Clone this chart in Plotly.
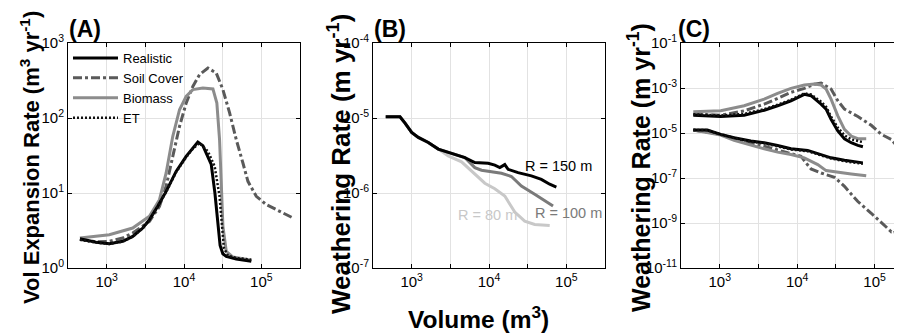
import plotly.graph_objects as go

# ---------------- Panel A: volume expansion rate ----------------
a_real_x = [451, 728, 1083, 1612, 2173, 2929, 3574, 4581, 5876, 7912, 10660, 13010, 15100, 17540, 20370, 22500, 25100, 27400, 29300, 31800, 35180, 47420, 74200]
a_real_y = [2.46, 2.20, 2.11, 2.27, 2.64, 3.41, 4.41, 6.64, 10.5, 19.4, 30.8, 39.8, 47.9, 42.8, 30.8, 24.0, 10.0, 4.0, 2.0, 1.55, 1.43, 1.32, 1.23]

a_et_x = [451, 728, 1083, 1612, 2173, 2929, 3574, 4581, 5876, 7912, 10660, 13010, 15880, 20370, 24900, 28840, 30980, 32800, 37000, 47420, 74200]
a_et_y = [2.38, 2.18, 2.09, 2.25, 2.62, 3.38, 4.35, 6.55, 10.3, 19.0, 30.0, 39.0, 46.5, 36.0, 22.7, 9.0, 3.6, 1.85, 1.46, 1.36, 1.29]

a_bio_x = [451, 1083, 2173, 3574, 4820, 5876, 7160, 8750, 10660, 13010, 17540, 23660, 26600, 28840, 30330, 31840, 35180, 42950, 74200]
a_bio_y = [2.51, 2.78, 3.41, 4.89, 8.15, 18.5, 57.0, 129, 194, 239, 251, 244, 158, 51.0, 13.6, 3.6, 1.67, 1.40, 1.27]

a_soil_x = [451, 728, 1083, 1612, 2173, 3574, 4820, 5876, 7160, 8750, 10660, 13010, 15880, 20370, 26120, 31840, 38900, 47420, 57800, 67100, 86100, 116000, 173000, 257000]
a_soil_y = [2.39, 2.24, 2.27, 2.51, 2.93, 4.19, 6.64, 12.3, 30.8, 77.4, 158, 264, 378, 464, 398, 239, 117, 51.4, 25.1, 14.3, 9.03, 6.99, 5.70, 4.64]

# ---------------- Panel B: weathering rate for different R ----------------
b150_x = [462, 706, 821, 1000, 1219, 1641, 2208, 3281, 4875, 6561, 9747, 11890, 13800, 16000, 17660, 23770, 35320, 47530, 60940, 74300]
b150_y = [1.04e-5, 1.04e-5, 8.57e-6, 6.43e-6, 5.51e-6, 4.72e-6, 3.85e-6, 3.37e-6, 2.97e-6, 2.55e-6, 2.49e-6, 2.35e-6, 2.18e-6, 2.39e-6, 2.07e-6, 1.87e-6, 1.69e-6, 1.52e-6, 1.31e-6, 1.20e-6]

b100_x = [462, 706, 821, 1000, 1219, 1641, 2208, 3281, 4875, 5380, 6561, 8000, 14490, 19500, 26240, 39000, 52480, 67300]
b100_y = [1.04e-5, 1.04e-5, 8.57e-6, 6.43e-6, 5.51e-6, 4.72e-6, 3.85e-6, 3.37e-6, 2.97e-6, 2.68e-6, 2.18e-6, 2.01e-6, 1.83e-6, 1.66e-6, 1.24e-6, 9.6e-7, 7.8e-7, 6.7e-7]

b80_x = [462, 706, 821, 1000, 1219, 1641, 2208, 2970, 4415, 6561, 8830, 11890, 16000, 21530, 28970, 39000, 60940]
b80_y = [1.04e-5, 1.04e-5, 8.57e-6, 6.43e-6, 5.51e-6, 4.72e-6, 3.85e-6, 3.13e-6, 2.60e-6, 1.78e-6, 1.35e-6, 1.14e-6, 9.1e-7, 5.57e-7, 4.22e-7, 3.80e-7, 3.69e-7]

# ---------------- Panel C: weathering rate, two groups ----------------
c_real_up_x = [456, 1030, 2066, 3755, 5590, 8320, 12380, 15100, 20370, 23660, 27420, 33500, 40840, 49890, 60810, 70630]
c_real_up_y = [6.18e-5, 5.38e-5, 6.18e-5, 1.03e-4, 1.62e-4, 2.71e-4, 5.2e-4, 4.54e-4, 1.92e-4, 1.15e-4, 4.09e-5, 1.23e-5, 5.57e-6, 3.69e-6, 2.8e-6, 2.44e-6]
c_et_up_x = [456, 1030, 2066, 3755, 5590, 8320, 12380, 15100, 20370, 23660, 27420, 33500, 40840, 49890, 70630]
c_et_up_y = [6.85e-5, 6.0e-5, 7.1e-5, 1.15e-4, 1.8e-4, 3.0e-4, 5.77e-4, 5.2e-4, 2.44e-4, 1.46e-4, 5.38e-5, 1.73e-5, 7.9e-6, 5.2e-6, 3.95e-6]
c_bio_up_x = [456, 1030, 2066, 3755, 5590, 8320, 12380, 16680, 20370, 23660, 27420, 33500, 40840, 49890, 60810, 78000]
c_bio_up_y = [8.7e-5, 9.7e-5, 1.62e-4, 3.21e-4, 5.77e-4, 9.66e-4, 1.36e-3, 1.51e-3, 1.36e-3, 9.0e-4, 3.21e-4, 5.77e-5, 1.46e-5, 7.3e-6, 5.57e-6, 5.57e-6]
c_soil_up_x = [456, 1030, 2066, 3755, 5590, 8320, 12380, 16680, 20370, 27420, 33500, 40840, 60810, 90600, 122000, 164400, 191000, 211000, 226000, 263000]
c_soil_up_y = [6.85e-5, 6.18e-5, 9.66e-5, 1.92e-4, 3.44e-4, 6.4e-4, 9.66e-4, 1.46e-3, 1.67e-3, 9.0e-4, 2.71e-4, 1.15e-4, 5.38e-5, 2.2e-5, 8.7e-6, 5.2e-6, 2.8e-6, 6.6e-7, 3.3e-7, 1.66e-7]

c_real_lo_x = [456, 692, 1030, 1534, 2523, 3755, 5590, 8320, 13680, 18450, 27420, 40840, 70630]
c_real_lo_y = [1.36e-5, 1.36e-5, 8.7e-6, 6.18e-6, 4.38e-6, 3.69e-6, 2.8e-6, 1.99e-6, 1.68e-6, 1.19e-6, 7.87e-7, 6.18e-7, 4.7e-7]
c_et_lo_x = [456, 692, 1030, 1534, 2523, 3755, 5590, 8320, 13680, 18450, 27420, 40840, 70630]
c_et_lo_y = [1.36e-5, 1.34e-5, 8.4e-6, 5.9e-6, 4.1e-6, 3.5e-6, 2.6e-6, 1.85e-6, 1.55e-6, 1.12e-6, 7.4e-7, 5.57e-7, 4.24e-7]
c_bio_lo_x = [456, 1030, 1534, 2523, 3755, 5590, 8320, 12380, 18450, 23660, 33500, 49890, 78000]
c_bio_lo_y = [1.36e-5, 8.13e-6, 4.7e-6, 2.8e-6, 1.99e-6, 1.41e-6, 1.11e-6, 7.87e-7, 3.95e-7, 2.13e-7, 1.79e-7, 1.51e-7, 1.27e-7]
c_soil_lo_x = [456, 1030, 2066, 3755, 7530, 11220, 13010, 15100, 20370, 30330, 40840, 60810, 90600, 122000, 164400, 181600, 200500, 226000, 263000]
c_soil_lo_y = [1.36e-5, 8.7e-6, 4.38e-6, 2.62e-6, 1.32e-6, 9.3e-7, 4.7e-7, 2.53e-7, 1.67e-7, 1.07e-7, 4.24e-8, 9.0e-9, 2.71e-9, 1.04e-9, 4.09e-10, 4.54e-10, 1.32e-10, 6.6e-11, 4.4e-11]

x_tickvals = [1e3, 10**3.5, 1e4, 10**4.5, 1e5]
x_ticktext = ["10<sup>3</sup>", "", "10<sup>4</sup>", "", "10<sup>5</sup>"]
a_ytickvals = [1, 10, 100, 1000]
a_yticktext = ["10<sup>0</sup>", "10<sup>1</sup>", "10<sup>2</sup>", "10<sup>3</sup>"]
b_ytickvals = [1e-7, 1e-6, 1e-5, 1e-4]
b_yticktext = ["10<sup>-7</sup>", "10<sup>-6</sup>", "10<sup>-5</sup>", "10<sup>-4</sup>"]
c_ytickvals = [1e-11, 1e-9, 1e-7, 1e-5, 1e-3, 1e-1]
c_yticktext = ["10<sup>-11</sup>", "10<sup>-9</sup>", "10<sup>-7</sup>", "10<sup>-5</sup>", "10<sup>-3</sup>", "10<sup>-1</sup>"]

FONT = "Liberation Sans, Arial, sans-serif"
# the page body has an 8px default margin, so the figure is drawn 8px in from the corner
OFF = 8
W, H = 902 - OFF, 334 - OFF

def PX(p):
    return (p - OFF) / W

def PY(p):
    return 1 - (p - OFF) / H

BLACK = "#000000"
SOIL = "#5a5a5a"
BIO = "#8c8c8c"
R100C = "#7a7a7a"
R80C = "#c8c8c8"

styles = {
    "Realistic": dict(color=BLACK, width=3, dash="solid"),
    "Soil Cover": dict(color=SOIL, width=3, dash="dashdot"),
    "Biomass": dict(color=BIO, width=3, dash="solid"),
    "ET": dict(color="#111111", width=2.5, dash="2px,2px"),
}

fig = go.Figure()

def add(x, y, name, xa, ya, show=False, line=None):
    fig.add_trace(go.Scatter(x=x, y=y, mode="lines", name=name, showlegend=show,
                             line=line or styles[name], xaxis=xa, yaxis=ya,
                             hoverinfo="skip"))

# Panel A
add(a_soil_x, a_soil_y, "Soil Cover", "x", "y")
add(a_bio_x, a_bio_y, "Biomass", "x", "y")
add(a_real_x, a_real_y, "Realistic", "x", "y")
add(a_et_x, a_et_y, "ET", "x", "y")
# legend entries in the reference order
for nm in ["Realistic", "Soil Cover", "Biomass", "ET"]:
    fig.add_trace(go.Scatter(x=[None], y=[None], mode="lines", name=nm, line=styles[nm],
                             showlegend=True, xaxis="x", yaxis="y"))

# Panel B
add(b80_x, b80_y, "R80", "x2", "y2", line=dict(color=R80C, width=3))
add(b100_x, b100_y, "R100", "x2", "y2", line=dict(color=R100C, width=3))
add(b150_x, b150_y, "R150", "x2", "y2", line=dict(color=BLACK, width=3))

# Panel C
add(c_soil_lo_x, c_soil_lo_y, "Soil Cover", "x3", "y3")
add(c_bio_lo_x, c_bio_lo_y, "Biomass", "x3", "y3")
add(c_real_lo_x, c_real_lo_y, "Realistic", "x3", "y3")
add(c_et_lo_x, c_et_lo_y, "ET", "x3", "y3")
add(c_soil_up_x, c_soil_up_y, "Soil Cover", "x3", "y3")
add(c_bio_up_x, c_bio_up_y, "Biomass", "x3", "y3")
add(c_real_up_x, c_real_up_y, "Realistic", "x3", "y3")
add(c_et_up_x, c_et_up_y, "ET", "x3", "y3")

ydom = [PY(268), PY(43)]
common_x = dict(type="log", range=[2.5, 5.5], tickvals=x_tickvals, ticktext=x_ticktext,
                ticks="inside", ticklen=4, tickcolor=BLACK, showline=True, linecolor=BLACK,
                linewidth=1, mirror="ticks", showgrid=True, gridcolor="#e2e2e2", gridwidth=1,
                zeroline=False, automargin=False,
                tickfont=dict(family=FONT, size=15, color=BLACK))
common_y = dict(type="log", ticks="inside", ticklen=4, tickcolor=BLACK, showline=True,
                linecolor=BLACK, linewidth=1, mirror="ticks", showgrid=True,
                gridcolor="#e2e2e2", gridwidth=1, zeroline=False, domain=ydom,
                automargin=False, tickfont=dict(family=FONT, size=15, color=BLACK))

fig.update_layout(
    width=W, height=H, margin=dict(l=0, r=0, t=0, b=0, autoexpand=False),
    paper_bgcolor="white", plot_bgcolor="white",
    xaxis=dict(common_x, domain=[PX(68), PX(300)], anchor="y"),
    yaxis=dict(common_y, range=[0, 3], tickvals=a_ytickvals, ticktext=a_yticktext, anchor="x"),
    xaxis2=dict(common_x, domain=[PX(373), PX(605)], anchor="y2"),
    yaxis2=dict(common_y, range=[-7, -4], tickvals=b_ytickvals, ticktext=b_yticktext, anchor="x2"),
    xaxis3=dict(common_x, domain=[PX(681), 1.0], range=[2.5, 5.354], anchor="y3"),
    yaxis3=dict(common_y, range=[-11, -1], tickvals=c_ytickvals, ticktext=c_yticktext,
                anchor="x3", mirror=False),
    legend=dict(x=PX(68), y=PY(43), xanchor="left", yanchor="top",
                bgcolor="rgba(255,255,255,0)", borderwidth=0,
                font=dict(family=FONT, size=13, color=BLACK), itemwidth=45,
                tracegroupgap=0),
    showlegend=True,
)

ann = []
def txt(x, y, s, size, color=BLACK, angle=0, xanchor="center"):
    ann.append(dict(x=PX(x), y=PY(y), xref="paper", yref="paper", text=s,
                    showarrow=False, textangle=angle, xanchor=xanchor, yanchor="middle",
                    font=dict(family=FONT, size=size, color=color)))

txt(67, 29, "<b>(A)</b>", 23, xanchor="left")
txt(372, 29, "<b>(B)</b>", 23, xanchor="left")
txt(676, 29, "<b>(C)</b>", 23, xanchor="left")
txt(30, 158, "<b>Vol Expansion Rate (m<sup>3</sup> yr<sup>-1</sup>)</b>", 22, angle=-90)
txt(339, 164, "<b>Weathering Rate (m yr<sup>-1</sup>)</b>", 26, angle=-90)
txt(639, 168, "<b>Weathering Rate (m yr<sup>-1</sup>)</b>", 25, angle=-90)
txt(479, 317, "<b>Volume (m<sup>3</sup>)</b>", 24.5)
txt(558, 166, "R = 150 m", 14.5, color=BLACK)
txt(568, 213, "R = 100 m", 14.5, color=R100C)
txt(487, 215, "R = 80 m", 14.5, color=R80C)
fig.update_layout(annotations=ann)

fig.write_html("out.html")
